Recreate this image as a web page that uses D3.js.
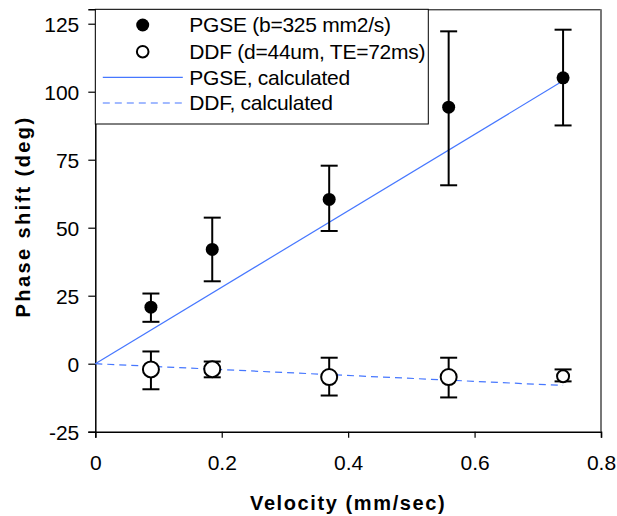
<!DOCTYPE html>
<html>
<head>
<meta charset="utf-8">
<script src="https://cdn.jsdelivr.net/npm/d3@7"></script>
<style>
    body { margin: 0; background: white; }
    text { font-family: Arial, "Liberation Sans", sans-serif; }
</style>
</head>
<body>
<div id="chart"></div>
<script>
// data
let velocity = [0.088, 0.185, 0.37, 0.559, 0.74];

let pgseMean = [20.8, 42.0, 60.4, 94.3, 105.1];
let pgseLow  = [15.4, 30.3, 48.8, 65.6, 87.6];
let pgseHigh = [25.8, 53.7, 72.8, 122.2, 122.8];

let ddfMean = [-2.1, -2.0, -4.9, -4.9, -4.6];
let ddfLow  = [-9.4, -5.0, -11.7, -12.4, -6.5];
let ddfHigh = [4.5, 0.8, 2.2, 2.2, -2.1];

// calculated curves
let calcX    = [0, 0.74];
let pgseCalc = [0, 104];
let ddfCalc  = [0, -8];

let xTicks = [0, 0.2, 0.4, 0.6, 0.8];
let yTicks = [-25, 0, 25, 50, 75, 100, 125];

let legendLabels = ["PGSE (b=325 mm2/s)", "DDF (d=44um, TE=72ms)", "PGSE, calculated", "DDF, calculated"];

// marker size for the open circles (last one is drawn smaller)
let ddfRadius = [8, 8, 8, 8, 6];

let blue = "#4677ff";

let width = 617, height = 516;
let margin = {top: 9.3, right: 16, bottom: 84.3, left: 95.3};
let w = width - margin.left - margin.right;
let h = height - margin.top - margin.bottom;

let svg = d3.select("#chart").append("svg")
    .attr("width", width)
    .attr("height", height);

let g = svg.append("g")
    .attr("transform", "translate(" + margin.left + "," + margin.top + ")");

let x = d3.scaleLinear().domain([0, 0.8]).range([0, w]);
let y = d3.scaleLinear().domain([-25, 130.3]).range([h, 0]);

// frame (top + right)
g.append("line").attr("x1", 0).attr("x2", w).attr("y1", 0.5).attr("y2", 0.5)
    .attr("stroke", "black").attr("stroke-width", 1);
g.append("line").attr("x1", w).attr("x2", w).attr("y1", 0).attr("y2", h)
    .attr("stroke", "#777").attr("stroke-width", 2);

// axes
let xAxis = g.append("g")
    .attr("transform", "translate(0," + h + ")")
    .call(d3.axisBottom(x).tickValues(xTicks).tickSize(6).tickPadding(17)
        .tickFormat(d => d === 0 ? "0" : d3.format(".1f")(d)));

let yAxis = g.append("g")
    .call(d3.axisLeft(y).tickValues(yTicks).tickSize(7).tickPadding(9)
        .tickFormat(d => String(d)));

[xAxis, yAxis].forEach(ax => {
    ax.select(".domain").attr("stroke", "black").attr("stroke-width", 1.5);
    ax.selectAll(".tick line").attr("stroke", "black").attr("stroke-width", 1.2);
    ax.selectAll(".tick text")
        .attr("fill", "black")
        .style("font-size", "21px")
        .style("font-family", "Arial, 'Liberation Sans', sans-serif");
});
yAxis.selectAll(".tick text").attr("dy", "0.36em");

// axis titles
svg.append("text")
    .attr("x", margin.left + w / 2)
    .attr("y", 510)
    .attr("text-anchor", "middle")
    .style("font-size", "20px")
    .style("font-weight", "bold")
    .style("letter-spacing", "1.6px")
    .text("Velocity (mm/sec)");

svg.append("text")
    .attr("transform", "translate(30," + (margin.top + h / 2 - 4) + ") rotate(-90)")
    .attr("text-anchor", "middle")
    .style("font-size", "20px")
    .style("font-weight", "bold")
    .style("letter-spacing", "2.4px")
    .text("Phase shift (deg)");

// calculated lines
let line = d3.line().x(d => x(d[0])).y(d => y(d[1]));

g.append("path")
    .datum(d3.zip(calcX, pgseCalc))
    .attr("d", line)
    .attr("fill", "none")
    .attr("stroke", blue)
    .attr("stroke-width", 1.2);

g.append("path")
    .datum(d3.zip(calcX, ddfCalc))
    .attr("d", line)
    .attr("fill", "none")
    .attr("stroke", blue)
    .attr("stroke-width", 1.2)
    .attr("stroke-dasharray", "7,5");

// error bars
function drawErrors(lo, hi) {
    let grp = g.append("g").attr("stroke", "black").attr("stroke-width", 2);
    velocity.forEach((v, i) => {
        grp.append("line")
            .attr("x1", x(v)).attr("x2", x(v))
            .attr("y1", y(lo[i])).attr("y2", y(hi[i]));
        [lo[i], hi[i]].forEach(e => {
            grp.append("line")
                .attr("x1", x(v) - 8.5).attr("x2", x(v) + 8.5)
                .attr("y1", y(e)).attr("y2", y(e));
        });
    });
}
drawErrors(pgseLow, pgseHigh);
drawErrors(ddfLow, ddfHigh);

// markers
g.selectAll(".pgse")
    .data(velocity)
    .enter()
    .append("circle")
    .attr("class", "pgse")
    .attr("cx", d => x(d))
    .attr("cy", (d, i) => y(pgseMean[i]))
    .attr("r", 6.5)
    .attr("fill", "black");

g.selectAll(".ddf")
    .data(velocity)
    .enter()
    .append("circle")
    .attr("class", "ddf")
    .attr("cx", d => x(d))
    .attr("cy", (d, i) => y(ddfMean[i]))
    .attr("r", (d, i) => ddfRadius[i])
    .attr("fill", "white")
    .attr("stroke", "black")
    .attr("stroke-width", 2);

// legend
let legend = g.append("g");
legend.append("rect")
    .attr("x", 0).attr("y", 0)
    .attr("width", 333).attr("height", 114.7)
    .attr("fill", "white")
    .attr("stroke", "black")
    .attr("stroke-width", 1);

let rowY = [15.7, 42.4, 68, 93.7];

legend.append("circle").attr("cx", 47.4).attr("cy", rowY[0]).attr("r", 6.5).attr("fill", "black");
legend.append("circle").attr("cx", 47.4).attr("cy", rowY[1]).attr("r", 5.8)
    .attr("fill", "white").attr("stroke", "black").attr("stroke-width", 2);
legend.append("line").attr("x1", 7.5).attr("x2", 87.5).attr("y1", rowY[2]).attr("y2", rowY[2])
    .attr("stroke", blue).attr("stroke-width", 1.2);
legend.append("line").attr("x1", 7.5).attr("x2", 87.5).attr("y1", rowY[3]).attr("y2", rowY[3])
    .attr("stroke", blue).attr("stroke-width", 1.2).attr("stroke-dasharray", "7,5");

legend.selectAll(".legtext")
    .data(legendLabels)
    .enter()
    .append("text")
    .attr("class", "legtext")
    .attr("x", 94)
    .attr("y", (d, i) => rowY[i] + 7.5)
    .style("font-size", "21px")
    .style("letter-spacing", "-0.25px")
    .text(d => d);
</script>
</body>
</html>
